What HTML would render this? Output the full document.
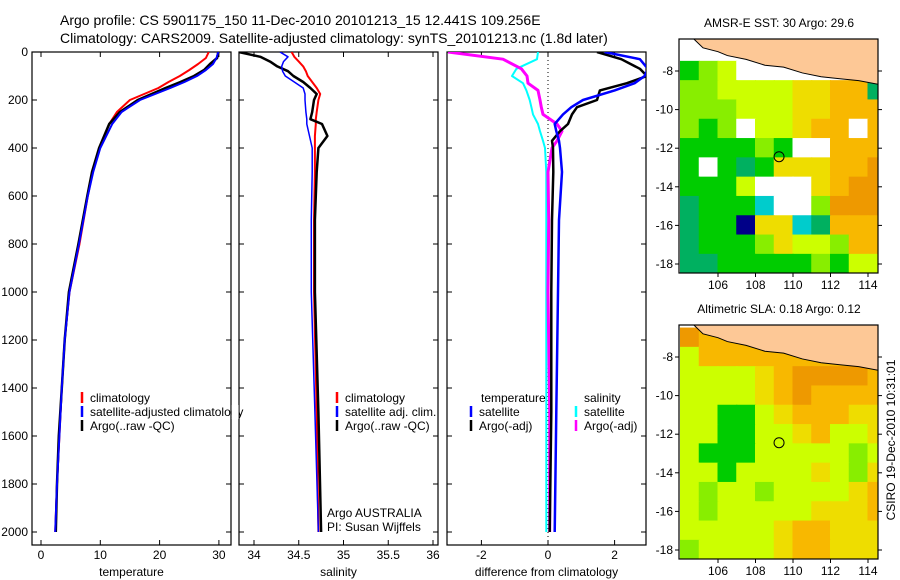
<!DOCTYPE html>
<html><head><meta charset="utf-8"><style>
body{margin:0;background:#fff;width:900px;height:580px;overflow:hidden}
svg{display:block;font-family:"Liberation Sans",sans-serif}
</style></head><body>
<svg id="c" width="900" height="580" viewBox="0 0 900 580">
<text x="60" y="25" font-size="14">Argo profile: CS 5901175_150 11-Dec-2010 20101213_15 12.441S 109.256E</text>
<text x="60" y="43" font-size="14">Climatology: CARS2009. Satellite-adjusted climatology: synTS_20101213.nc (1.8d later)</text>
</svg>
<script>
// ---------- data ----------
const tDepth=[0,25,50,75,100,125,150,200,250,300,400,500,600,800,1000,1200,1400,1600,1800,2000];
const tClim=[28.3,27.8,26.5,25,23.4,21.5,19.8,15,12.8,11.5,9.8,8.7,7.9,6.5,4.8,4.0,3.5,3.1,2.7,2.4];
const tSat=[29.9,29.6,29,27.8,26.3,24.2,21.8,16.7,13.6,12,10,8.8,7.9,6.4,4.8,4.0,3.5,3.1,2.7,2.4];
const tArgo=[29.9,29.7,28.5,27.5,25.8,23.5,21,16.3,13.3,11.5,9.8,8.6,7.8,6.3,4.7,4.0,3.5,3.0,2.7,2.5];
const sDepth=[0,20,40,60,80,100,125,150,175,200,250,280,300,350,400,500,700,1000,1500,2000];
const sClim=[34.42,34.45,34.5,34.55,34.58,34.6,34.65,34.7,34.74,34.72,34.7,34.69,34.69,34.68,34.68,34.68,34.67,34.67,34.7,34.72];
const sSat=[34.29,34.38,34.33,34.31,34.32,34.35,34.45,34.55,34.57,34.57,34.58,34.59,34.59,34.62,34.65,34.65,34.64,34.64,34.68,34.72];
const sArgo=[33.83,34.07,34.18,34.26,34.38,34.44,34.55,34.63,34.7,34.67,34.65,34.63,34.76,34.82,34.72,34.7,34.68,34.68,34.72,34.75];
const dDepth=[0,30,70,100,130,160,200,230,260,300,330,370,400,500,700,1000,1500,2000];
const dTSat=[1.7,2.76,3.0,2.9,2.6,2.0,1.05,0.7,0.45,0.2,0.25,0.33,0.36,0.42,0.33,0.3,0.25,0.2];
const dTArgo=[1.47,2.2,2.76,2.97,2.37,1.56,1.47,0.87,0.72,0.6,0.36,0.12,0.15,0.16,0.12,0.1,0.1,0.05];
const dSSat=[-0.3,-0.33,-0.95,-1.08,-0.75,-0.65,-0.55,-0.5,-0.45,-0.3,-0.24,-0.15,-0.09,-0.05,-0.05,-0.05,-0.05,-0.05];
const dSArgo=[-3.0,-1.35,-0.8,-0.63,-0.6,-0.3,-0.24,-0.2,-0.15,0.27,0.42,0.27,0.12,0,0.02,0,0.05,0.05];
const depthTicks=[0,200,400,600,800,1000,1200,1400,1600,1800,2000];
const tTicks=[0,10,20,30];
const sTicks=[34,34.5,35,35.5,36];
const dTicks=[-2,0,2];
const lonTicks=[106,108,110,112,114];
const latTicks=[-8,-10,-12,-14,-16,-18];
const sstGrid=["WWLLLLLLLLL","GgyWWWLLLLL","ggyyyyYYOOt","gggyyyYYOOO","gGgWyyYOOWO","GGGGgGWWOOO","GWGtGYYYOOo","GGGyWWWYOoo","tGGGcWWgooo","tGGBYYctOOO","tGGGgYyygOO","ttGGGGGgGyy"];
const slaGrid=["oOLLLLLLLLL","yOOOOLLLLLL","yyyyYOooooL","yyyyYOoOOOO","yyGGyYOOOYY","yyGGyyYOyyY","yGGGyyyyygy","yyGyyyyYygY","ygyygyyyyYO","ygyyyyyYYYO","yyyyyYOOYYY","gyyyyYOOYYY"];
const coastLon=[104,105.2,106,106.5,107.5,108.5,109.5,110.5,111.5,112.5,113.5,114.6];
const coastLat=[-6.4,-6.8,-7,-7.2,-7.4,-7.7,-7.8,-8.1,-8.3,-8.4,-8.5,-8.7];
const argoLon=109.256, argoLat=-12.441;

// ---------- helpers ----------
const NS="http://www.w3.org/2000/svg", svg=document.getElementById('c');
function mk(tag,at,parent){const e=document.createElementNS(NS,tag);for(const k in at)e.setAttribute(k,at[k]);(parent||svg).appendChild(e);return e;}
function txt(x,y,s,at){const e=mk('text',Object.assign({x:x,y:y,'font-size':12},at||{}));e.textContent=s;return e;}
const Y0=52,Ybot=545;
const yD=d=>Y0+d*0.24;
const xT=v=>41+v*5.93, xS=v=>254+(v-34)*89.5, xDf=v=>548+v*33.3;
const panels=[{x0:32,x1:231,f:xT,ticks:tTicks,lab:"temperature",n:"temperature"},{x0:239,x1:438,f:xS,ticks:sTicks,lab:"salinity",n:"salinity"},{x0:447,x1:646,f:xDf,ticks:dTicks,lab:"difference from climatology",n:"difference"}];
panels.forEach((p,i)=>{
  const g=mk('g',{});
  
  
  const cp=mk('clipPath',{id:'cp'+i},g);mk('rect',{x:p.x0,y:Y0,width:p.x1-p.x0,height:Ybot-Y0},cp);
  const r=mk('rect',{x:p.x0,y:Y0,width:p.x1-p.x0,height:Ybot-Y0,fill:'#fff',stroke:'#000','stroke-width':1.2},g);
  
  p.ticks.forEach(t=>{const x=p.f(t);mk('line',{x1:x,x2:x,y1:Ybot,y2:Ybot-5,stroke:'#000'},g);mk('line',{x1:x,x2:x,y1:Y0,y2:Y0+5,stroke:'#000'},g);
    const l=txt(x,559,String(t),{'text-anchor':'middle'});});
  depthTicks.forEach(d=>{mk('line',{x1:p.x0,x2:p.x0+5,y1:yD(d),y2:yD(d),stroke:'#000'},g);mk('line',{x1:p.x1,x2:p.x1-5,y1:yD(d),y2:yD(d),stroke:'#000'},g);});
  const xl=txt((p.x0+p.x1)/2,576,p.lab,{'text-anchor':'middle'});
  p.g=g;
});
depthTicks.forEach(d=>{const l=txt(28,yD(d)+4,String(d),{'text-anchor':'end'});});
function line(pi,dep,vals,col,w,name,dash){
  const p=panels[pi];
  const pts=dep.map((d,k)=>p.f(vals[k]).toFixed(1)+','+yD(d).toFixed(1)).join(' ');
  const e=mk('polyline',{points:pts,fill:'none',stroke:col,'stroke-width':w,'clip-path':'url(#cp'+pi+')','stroke-linejoin':'round'},p.g);
  if(dash)e.setAttribute('stroke-dasharray',dash);
  
}
line(0,tDepth,tClim,'#f00',2,'temp-climatology-line');
line(0,tDepth,tArgo,'#000',2.5,'temp-argo-line');
line(0,tDepth,tSat,'#00f',2,'temp-satellite-line');
line(1,sDepth,sClim,'#f00',2,'sal-climatology-line');
line(1,sDepth,sArgo,'#000',2.5,'sal-argo-line');
line(1,sDepth,sSat,'#00f',1.5,'sal-satellite-line');
const zl=mk('line',{x1:xDf(0),x2:xDf(0),y1:Y0,y2:Ybot,stroke:'#000','stroke-dasharray':'1,3'},panels[2].g);

line(2,dDepth,dSSat,'#0ff',2,'sal-diff-satellite-line');
line(2,dDepth,dSArgo,'#f0f',3,'sal-diff-argo-line');
line(2,dDepth,dTArgo,'#000',2.5,'temp-diff-argo-line');
line(2,dDepth,dTSat,'#00f',2.5,'temp-diff-satellite-line');
// legends
function leg(x,y,col,s,tx){const g=mk('g',{});
  if(col)mk('line',{x1:x,x2:x,y1:y-10,y2:y+1,stroke:col,'stroke-width':2.5},g);const t=txt(tx!==undefined?tx:x+8,y,s);g.appendChild(t);}
leg(82,402,'#f00','climatology');leg(82,416,'#00f','satellite-adjusted climatology');leg(82,430,'#000','Argo(..raw -QC)');
svg.appendChild(mk('rect',{x:231.6,y:405,width:7,height:14,fill:'#fff'}));
leg(337,402,'#f00','climatology');leg(337,416,'#00f','satellite adj. clim.');leg(337,430,'#000','Argo(..raw -QC)');
leg(471,402,null,'temperature',481);leg(471,416,'#00f','satellite');leg(471,430,'#000','Argo(-adj)');
leg(576,402,null,'salinity',584);leg(576,416,'#0ff','satellite');leg(576,430,'#f0f','Argo(-adj)');
const a1=txt(327,517,'Argo AUSTRALIA');
const a2=txt(327,531,'PI: Susan Wijffels');
// maps
const COL={W:'#fff',L:'#fdc896',G:'#00cc00',g:'#88ee00',y:'#ccff00',Y:'#eedd00',O:'#f8b800',o:'#ee9900',B:'#000088',c:'#00cccc',t:'#00b060'};
function map(top,grid,title,name,slaMode){
  const x0=679,x1=878,y1=top+234;
  const lx=lon=>718+(lon-106)*18.75, ly=lat=>top+32+(-8-lat)*19.3;
  const g=mk('g',{});
  const id='mc'+top;const cp=mk('clipPath',{id:id},g);mk('rect',{x:x0,y:top,width:x1-x0,height:y1-top},cp);
  const cg=mk('g',{'clip-path':'url(#'+id+')'},g);
  mk('rect',{x:x0,y:top,width:x1-x0,height:y1-top,fill:'#fff'},cg);
  grid.forEach((row,r)=>{for(let c=0;c<row.length;c++){const ch=row[c]==='L'?(slaMode?'O':'W'):row[c];
    mk('rect',{x:lx(104+c)-0.5,y:ly(-6.5-r)-0.5,width:19.8,height:20.3,fill:COL[ch]},cg);}});
  const pts=coastLon.map((l,k)=>lx(l)+','+ly(coastLat[k])).join(' ');
  const land=mk('polygon',{points:lx(104.6)+','+(top-2)+' '+pts.split(' ').slice(1).join(' ')+' '+lx(115)+','+(top-2),fill:'#fdc896',stroke:'#000','stroke-width':1},cg);
  
  mk('rect',{x:x0,y:top,width:x1-x0,height:y1-top,fill:'none',stroke:'#000','stroke-width':1.2},g);
  lonTicks.forEach(l=>{mk('line',{x1:lx(l),x2:lx(l),y1:y1,y2:y1+4,stroke:'#000'},g);const t=txt(lx(l),y1+16,String(l),{'text-anchor':'middle'});});
  latTicks.forEach(l=>{mk('line',{x1:x0,x2:x0-4,y1:ly(l),y2:ly(l),stroke:'#000'},g);mk('line',{x1:x1,x2:x1+4,y1:ly(l),y2:ly(l),stroke:'#000'},g);const t=txt(x0-6,ly(l)+4,String(l),{'text-anchor':'end'});});
  const c=mk('circle',{cx:lx(argoLon),cy:ly(argoLat),r:5,fill:'none',stroke:'#000'},g);
  const tt=txt(779,top-12,title,{'text-anchor':'middle'});
}
map(39,sstGrid,'AMSR-E SST: 30 Argo: 29.6','sst-map',false);
map(325,slaGrid,'Altimetric SLA: 0.18 Argo: 0.12','sla-map',true);
const cs=txt(0,0,'CSIRO 19-Dec-2010 10:31:01',{'text-anchor':'middle',transform:'translate(895,440) rotate(-90)'});

</script>
</body></html>
